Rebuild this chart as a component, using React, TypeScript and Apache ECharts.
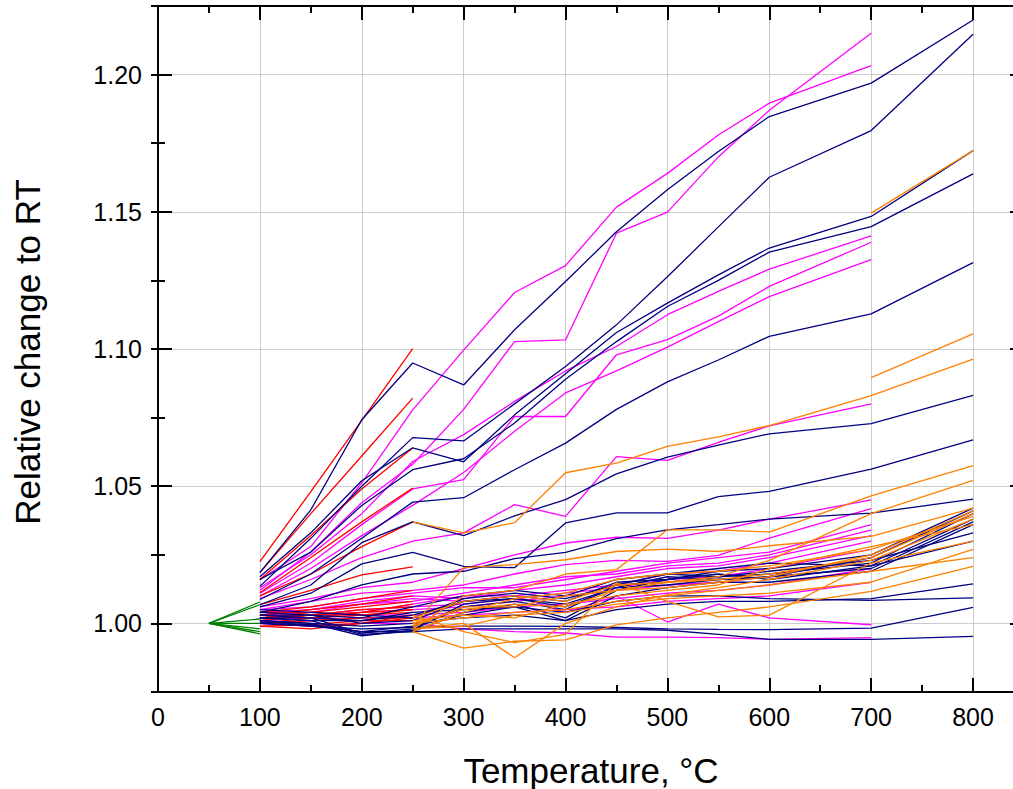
import React, { useEffect, useRef } from "react";
import * as echarts from "echarts";

const TEMPS = [100, 150, 200, 250, 300, 350, 400, 450, 500, 550, 600, 700, 800];
const TEMPS_TO_700 = TEMPS.slice(0, 12);
const TEMPS_TO_250 = TEMPS.slice(0, 4);
const TEMPS_FROM_250 = TEMPS.slice(3);
const TEMPS_700_800 = [700, 800];
const TEMPS_GREEN = [50, 100];
const X_TICKS = [0, 100, 200, 300, 400, 500, 600, 700, 800];
const Y_TICKS = [1.0, 1.05, 1.1, 1.15, 1.2];
const X_TITLE = "Temperature, °C";
const Y_TITLE = "Relative change to RT";

// navy series, 100 -> 800 °C
const navy: number[][] = [
  [1.0185, 1.0414, 1.0742, 1.0949, 1.0869, 1.107, 1.1246, 1.1427, 1.158, 1.172, 1.1847, 1.1969, 1.2199],
  [1.0135, 1.031, 1.05, 1.0677, 1.0665, 1.08, 1.0936, 1.1088, 1.1263, 1.1445, 1.1626, 1.1796, 1.2147],
  [1.017, 1.033, 1.052, 1.064, 1.0589, 1.076, 1.091, 1.106, 1.1167, 1.127, 1.1368, 1.1483, 1.1723],
  [1.016, 1.026, 1.043, 1.056, 1.06, 1.073, 1.089, 1.1027, 1.1155, 1.125, 1.1353, 1.1446, 1.1638],
  [1.0087, 1.018, 1.031, 1.0442, 1.0458, 1.056, 1.0657, 1.078, 1.088, 1.096, 1.1046, 1.1128, 1.1315],
  [1.0068, 1.014, 1.0294, 1.037, 1.032, 1.0392, 1.0451, 1.0545, 1.0606, 1.065, 1.0691, 1.0728, 1.0831],
  [1.006, 1.011, 1.0217, 1.0259, 1.0208, 1.0203, 1.0366, 1.0403, 1.0403, 1.0462, 1.0481, 1.0562, 1.0669],
  [1.004, 1.008, 1.014, 1.018, 1.019, 1.0236, 1.0259, 1.0309, 1.0341, 1.036, 1.038, 1.0402, 1.0453],
  [1.003, 1.002, 0.9965, 0.998, 1.006, 1.008, 1.005, 1.014, 1.015, 1.017, 1.018, 1.022, 1.04],
  [1.002, 1.001, 0.996, 0.997, 1.004, 1.007, 1.002, 1.012, 1.016, 1.018, 1.016, 1.021, 1.038],
  [1.001, 1.0, 0.9955, 0.9975, 1.007, 1.009, 1.006, 1.013, 1.017, 1.016, 1.017, 1.024, 1.041],
  [1.004, 1.003, 1.0, 1.001, 1.008, 1.01, 1.008, 1.015, 1.016, 1.019, 1.02, 1.025, 1.042],
  [1.0, 0.999, 0.997, 0.999, 1.003, 1.006, 1.001, 1.01, 1.013, 1.015, 1.015, 1.019, 1.036],
  [1.005, 1.004, 1.003, 1.002, 1.009, 1.011, 1.009, 1.014, 1.018, 1.017, 1.019, 1.023, 1.033],
  [1.002, 1.001, 1.001, 1.004, 1.005, 1.006, 1.004, 1.008, 1.01, 1.01, 1.009, 1.0084, 1.0093],
  [1.001, 1.0, 0.999, 1.0, 1.002, 1.003, 1.001, 1.005, 1.007, 1.008, 1.008, 1.009, 1.0144],
  [1.0, 0.999, 0.998, 0.9985, 0.999, 0.999, 0.9989, 0.9985, 0.998, 0.9978, 0.9977, 0.9983, 1.0058],
  [1.0005, 0.9995, 0.997, 0.997, 0.998, 0.998, 0.998, 0.998, 0.9975, 0.996, 0.9942, 0.9942, 0.9953],
  [1.003, 1.003, 1.002, 1.006, 1.01, 1.012, 1.01, 1.016, 1.018, 1.02, 1.022, 1.021, 1.03],
  [1.002, 1.002, 1.001, 1.003, 1.008, 1.009, 1.007, 1.013, 1.014, 1.016, 1.017, 1.02, 1.037],
];

// magenta series, 100 -> 700 °C
const magenta: number[][] = [
  [1.0159, 1.028, 1.0512, 1.0778, 1.0996, 1.1206, 1.1304, 1.1517, 1.164, 1.178, 1.1896, 1.2033],
  [1.012, 1.026, 1.044, 1.058, 1.078, 1.1027, 1.1033, 1.1422, 1.1499, 1.17, 1.187, 1.2151],
  [1.013, 1.025, 1.04, 1.059, 1.0688, 1.0809, 1.092, 1.1009, 1.1125, 1.121, 1.1291, 1.1412],
  [1.011, 1.022, 1.036, 1.049, 1.0524, 1.0754, 1.0754, 1.0979, 1.1034, 1.112, 1.1228, 1.1389],
  [1.01, 1.02, 1.032, 1.043, 1.055, 1.07, 1.084, 1.092, 1.1007, 1.11, 1.1191, 1.1326],
  [1.009, 1.016, 1.024, 1.03, 1.033, 1.0433, 1.039, 1.0608, 1.0594, 1.066, 1.072, 1.08],
  [1.006, 1.009, 1.013, 1.015, 1.02, 1.025, 1.0293, 1.0314, 1.031, 1.034, 1.038, 1.045],
  [1.005, 1.008, 1.011, 1.012, 1.014, 1.018, 1.0214, 1.023, 1.0226, 1.0248, 1.0311, 1.0418],
  [1.005, 1.006, 1.009, 1.011, 1.013, 1.013, 1.016, 1.019, 1.022, 1.024, 1.026, 1.036],
  [1.004, 1.005, 1.008, 1.01, 1.009, 1.012, 1.014, 1.017, 1.02, 1.021, 1.024, 1.032],
  [1.003, 1.004, 1.007, 1.009, 1.008, 1.01, 1.012, 1.014, 1.018, 1.019, 1.022, 1.03],
  [1.002, 1.003, 1.005, 1.006, 1.007, 1.009, 1.011, 1.013, 1.016, 1.017, 1.02, 1.027],
  [1.001, 1.002, 1.004, 1.005, 1.006, 1.008, 1.01, 1.012, 1.014, 1.015, 1.017, 1.024],
  [1.001, 1.002, 1.003, 1.003, 1.004, 1.006, 1.007, 1.009, 1.011, 1.012, 1.014, 1.02],
  [1.0, 1.001, 1.002, 1.002, 1.003, 1.004, 1.005, 1.006, 1.008, 1.009, 1.01, 1.015],
  [1.0, 0.999, 1.0, 1.0, 0.998, 0.997, 0.9965, 0.995, 0.995, 0.9948, 0.9942, 0.9948],
  [1.002, 1.003, 1.004, 1.007, 1.01, 1.01, 1.004, 1.01, 1.0005, 1.007, 1.002, 0.9995],
  [1.003, 1.005, 1.007, 1.008, 1.011, 1.014, 1.017, 1.018, 1.021, 1.022, 1.025, 1.034],
];

// red series, 100 -> 250 °C
const red: number[][] = [
  [1.0225, 1.048, 1.074, 1.1001],
  [1.0185, 1.04, 1.061, 1.0821],
  [1.016, 1.032, 1.049, 1.0639],
  [1.0112, 1.024, 1.037, 1.0493],
  [1.01, 1.018, 1.028, 1.037],
  [1.0068, 1.012, 1.0177, 1.0206],
  [1.004, 1.006, 1.009, 1.012],
  [1.003, 1.005, 1.007, 1.01],
  [1.002, 1.004, 1.006, 1.008],
  [1.002, 1.003, 1.005, 1.006],
  [1.001, 1.003, 1.004, 1.005],
  [1.0, 1.002, 1.003, 1.004],
  [1.0, 1.001, 1.002, 1.002],
  [0.999, 0.9995, 1.001, 1.001],
  [1.001, 0.999, 1.0, 1.003],
  [1.003, 1.002, 1.004, 1.007],
  [1.004, 1.004, 1.003, 1.005],
  [0.999, 0.998, 1.0, 1.002],
];

// orange series, 250 -> 800 °C
const orange: number[][] = [
  [1.037, 1.033, 1.0367, 1.0549, 1.0584, 1.0645, 1.068, 1.0721, 1.083, 1.0963],
  [0.998, 1.01, 1.012, 1.018, 1.0196, 1.0341, 1.0341, 1.0333, 1.0465, 1.0575],
  [0.999, 1.006, 1.006, 1.01, 1.012, 1.015, 1.017, 1.023, 1.04, 1.0521],
  [0.997, 0.991, 0.9935, 0.994, 0.9995, 1.002, 1.004, 1.006, 1.0117, 1.0208],
  [0.998, 1.0, 0.9875, 1.0, 1.006, 1.0105, 1.013, 1.016, 1.023, 1.038],
  [1.003, 0.997, 0.993, 0.996, 1.0148, 1.008, 1.0024, 1.003, 1.022, 1.03],
  [0.999, 1.0203, 1.0214, 1.0232, 1.0262, 1.0271, 1.0262, 1.0283, 1.0317, 1.042],
  [1.002, 1.008, 1.01, 1.008, 1.014, 1.015, 1.016, 1.018, 1.024, 1.04],
  [1.0, 1.005, 1.007, 1.006, 1.012, 1.013, 1.015, 1.017, 1.025, 1.041],
  [0.997, 1.004, 1.009, 1.011, 1.016, 1.018, 1.019, 1.021, 1.027, 1.039],
  [1.001, 1.003, 1.002, 1.007, 1.01, 1.012, 1.014, 1.02, 1.028, 1.036],
  [1.0, 1.002, 1.004, 1.005, 1.008, 1.01, 1.012, 1.014, 1.019, 1.024],
  [0.998, 0.999, 1.003, 1.004, 1.007, 1.009, 1.01, 1.011, 1.015, 1.027],
];

// orange short segments, 700 -> 800 °C
const orangeShort: number[][] = [
  [1.1495, 1.1723],
  [1.0896, 1.1055],
];

// green series, 50 -> 100 °C
const green: number[][] = [
  [1.0, 1.0078],
  [1.0, 1.0068],
  [1.0, 1.0016],
  [1.0, 1.0],
  [1.0, 0.998],
  [1.0, 0.997],
  [1.0, 0.9962],
];

const COLORS = {
  navy: "#000080",
  magenta: "#FF00FF",
  red: "#FF0000",
  orange: "#FF8000",
  green: "#008000",
};

const FONT = 'Arial, "Liberation Sans", sans-serif';

function mk(xs: number[], rows: number[][], color: string, z: number) {
  return rows.map((ys) => ({
    type: "line",
    xAxisIndex: 0,
    yAxisIndex: 0,
    data: ys.map((y, i) => [xs[i], y]),
    showSymbol: false,
    symbol: "none",
    silent: true,
    z,
    lineStyle: { color, width: 1.3 },
  }));
}

export default function App() {
  const ref = useRef<HTMLDivElement>(null);
  useEffect(() => {
    document.body.style.margin = "0";
    if (!ref.current) return;
    const chart = echarts.init(ref.current, undefined, { renderer: "svg" });
    const xMin = 0;
    const xMax = 850;
    const yMin = 0.975;
    const yMax = 1.225;
    const isMajorY = (v: number) => Y_TICKS.some((t) => Math.abs(t - v) < 1e-6);
    const isMajorX = (v: number) => X_TICKS.some((t) => Math.abs(t - v) < 1e-6);
    const axisLine = { show: true, onZero: false, lineStyle: { color: "#000", width: 2 } };
    const majorTick = { show: true, inside: true, length: 14, lineStyle: { color: "#000", width: 2 } };
    const minorTick = { show: true, inside: true, length: 7, lineStyle: { color: "#000", width: 2 } };
    const option: any = {
      animation: false,
      grid: { left: 158, top: 6, width: 866, height: 686, containLabel: false, outerBoundsMode: "none" },
      graphic: [
        {
          type: "text",
          x: 591,
          y: 770,
          silent: true,
          style: {
            text: X_TITLE,
            font: `35px ${FONT}`,
            fill: "#000",
            textAlign: "center",
            textVerticalAlign: "middle",
          },
        },
        {
          type: "text",
          x: 27,
          y: 352,
          rotation: Math.PI / 2,
          silent: true,
          style: {
            text: Y_TITLE,
            font: `35px ${FONT}`,
            fill: "#000",
            textAlign: "center",
            textVerticalAlign: "middle",
          },
        },
      ],
      xAxis: [
        {
          type: "value",
          position: "bottom",
          min: xMin,
          max: xMax,
          interval: 100,
          axisLine,
          axisTick: majorTick,
          axisLabel: {
            show: true,
            fontSize: 25,
            fontFamily: FONT,
            color: "#000",
            margin: 12,
            showMaxLabel: false,
            formatter: (v: number) => (isMajorX(v) ? String(v) : ""),
          },
          splitLine: { show: true, lineStyle: { color: "#cccccc", width: 1 } },
        },
        {
          type: "value",
          position: "bottom",
          min: xMin,
          max: xMax,
          interval: 50,
          axisLine: { show: false },
          axisTick: minorTick,
          axisLabel: { show: false },
          splitLine: { show: false },
        },
        {
          type: "value",
          position: "top",
          min: xMin,
          max: xMax,
          interval: 100,
          axisLine,
          axisTick: majorTick,
          axisLabel: { show: false },
          splitLine: { show: false },
        },
        {
          type: "value",
          position: "top",
          min: xMin,
          max: xMax,
          interval: 50,
          axisLine: { show: false },
          axisTick: minorTick,
          axisLabel: { show: false },
          splitLine: { show: false },
        },
      ],
      yAxis: [
        {
          type: "value",
          position: "left",
          min: yMin,
          max: yMax,
          splitNumber: 5,
          axisLine,
          axisTick: majorTick,
          axisLabel: {
            show: true,
            fontSize: 25,
            fontFamily: FONT,
            color: "#000",
            margin: 16,
            showMinLabel: false,
            showMaxLabel: false,
            formatter: (v: number) => (isMajorY(v) ? v.toFixed(2) : ""),
          },
          splitLine: { show: true, lineStyle: { color: "#cccccc", width: 1 } },
        },
        {
          type: "value",
          position: "left",
          min: yMin,
          max: yMax,
          interval: 0.025,
          axisLine: { show: false },
          axisTick: minorTick,
          axisLabel: { show: false },
          splitLine: { show: false },
        },
        {
          type: "value",
          position: "right",
          min: yMin,
          max: yMax,
          splitNumber: 5,
          axisLine,
          axisTick: majorTick,
          axisLabel: { show: false },
          splitLine: { show: false },
        },
        {
          type: "value",
          position: "right",
          min: yMin,
          max: yMax,
          interval: 0.025,
          axisLine: { show: false },
          axisTick: minorTick,
          axisLabel: { show: false },
          splitLine: { show: false },
        },
      ],
      series: [
        ...mk(TEMPS_TO_700, magenta, COLORS.magenta, 2),
        ...mk(TEMPS_TO_250, red, COLORS.red, 3),
        ...mk(TEMPS, navy, COLORS.navy, 4),
        ...mk(TEMPS_FROM_250, orange, COLORS.orange, 5),
        ...mk(TEMPS_700_800, orangeShort, COLORS.orange, 5),
        ...mk(TEMPS_GREEN, green, COLORS.green, 6),
      ],
    };
    chart.setOption(option);
    return () => chart.dispose();
  }, []);
  return <div ref={ref} style={{ width: 1013, height: 789 }} />;
}
